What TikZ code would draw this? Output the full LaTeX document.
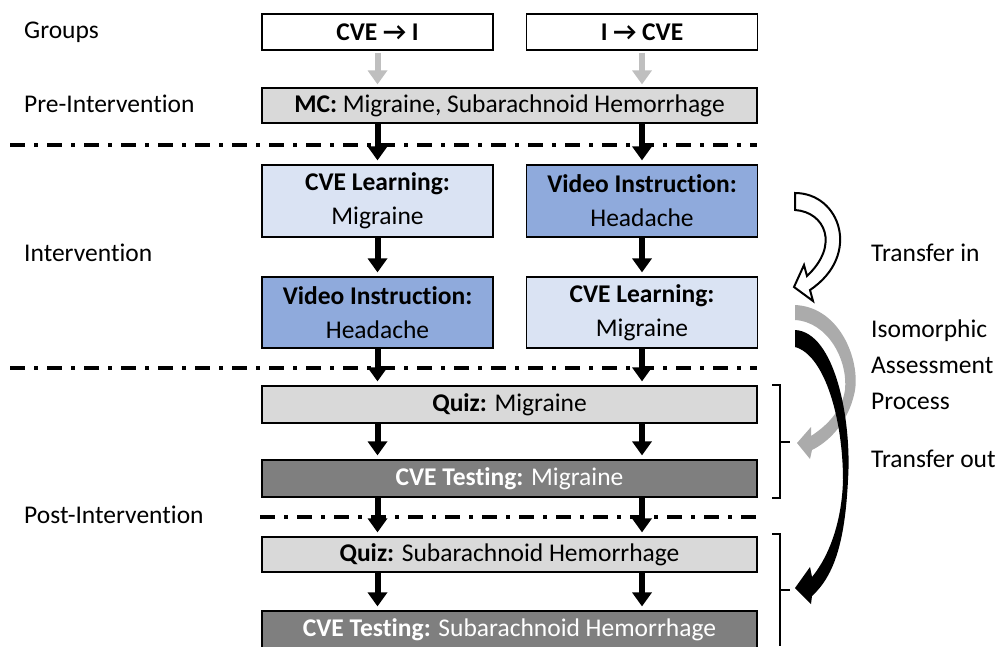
\documentclass[tikz,border=0pt]{standalone}
\usepackage{fontspec}
\setmainfont{Carlito}[Ligatures={NoCommon}]
\usetikzlibrary{arrows.meta}
\definecolor{lgray}{HTML}{D9D9D9}
\definecolor{dgray}{HTML}{7F7F7F}
\definecolor{lblue}{HTML}{DAE3F3}
\definecolor{dblue}{HTML}{8FAADC}
\definecolor{agray}{HTML}{BFBFBF}
\definecolor{cgray}{HTML}{ABABAB}
\begin{document}
\begin{tikzpicture}[x=1pt,y=-1pt,
  every node/.style={font=\fontsize{25.5}{34}\selectfont, inner sep=0pt},
  box/.style={draw=black, line width=1.2pt, align=center},
  narrowbox/.style={box, minimum width=231pt},
  widebox/.style={box, minimum width=495pt},
  lab/.style={anchor=west, text height=18pt, text depth=4pt},
  bigarr/.style={line width=6pt, -{Triangle[width=19pt,length=14pt]}, black, shorten >=4pt},
  grayarr/.style={line width=6pt, -{Triangle[width=19pt,length=14pt]}, agray, shorten >=3pt, shorten <=2pt},
  dashdot/.style={line width=3.5pt, dash pattern=on 15pt off 9pt on 4pt off 9pt},
  brk/.style={line width=2.5pt, line join=miter}
]
\useasboundingbox (0,0) rectangle (1002,646);

% left labels
\node[lab] (tgroups) at (24,31) {Groups};
\node[lab] (tpre) at (24,105) {Pre-Intervention};
\node[lab] (tint) at (24,254) {Intervention};
\node[lab] (tpost) at (24,516) {Post-Intervention};

% right labels
\node[lab] (ttin) at (871,254) {Transfer in};
\node[lab] (tiso) at (871,330) {Isomorphic};
\node[lab] (tass) at (871,366) {Assessment};
\node[lab] (tpro) at (871,402) {Process};
\node[lab] (ttout) at (871,460) {Transfer out};

% dash-dot separators
\draw[dashdot] (10,145) -- (757,145);
\draw[dashdot] (10,368) -- (757,368);
\draw[dashdot] (260,517) -- (757,517);

% boxes
\node[narrowbox, fill=white, minimum height=36pt] (g1) at (377.5,32) {\textbf{CVE → I}};
\node[narrowbox, fill=white, minimum height=36pt] (g2) at (642,32) {\textbf{I → CVE}};
\node[widebox, fill=lgray, minimum height=35pt] (mc) at (509.5,105.5) {\textbf{MC:} Migraine, Subarachnoid Hemorrhage};
\node[narrowbox, fill=lblue, minimum height=72pt] (l1) at (377.5,201) {\textbf{CVE Learning:}\\Migraine};
\node[narrowbox, fill=dblue, minimum height=72pt] (r1) at (642,201) {\textbf{Video Instruction:}\\Headache};
\node[narrowbox, fill=dblue, minimum height=71pt] (l2) at (377.5,312.5) {\textbf{Video Instruction:}\\Headache};
\node[narrowbox, fill=lblue, minimum height=71pt] (r2) at (642,312.5) {\textbf{CVE Learning:}\\Migraine};
\node[widebox, fill=lgray, minimum height=37pt] (q1) at (509.5,404.5) {\textbf{Quiz:} Migraine};
\node[widebox, fill=dgray, text=white, minimum height=37pt] (t1) at (509.5,478.5) {\textbf{CVE Testing:} Migraine};
\node[widebox, fill=lgray, minimum height=35pt] (q2) at (509.5,554.5) {\textbf{Quiz:} Subarachnoid Hemorrhage};
\node[widebox, fill=dgray, text=white, minimum height=38pt] (t2) at (509.5,630) {\textbf{CVE Testing:} Subarachnoid Hemorrhage};

% gray arrows
\draw[grayarr] (g1.south) -- (g1.south |- mc.north);
\draw[grayarr] (g2.south) -- (g2.south |- mc.north);

% black arrows
\draw[bigarr] (l1.north |- mc.south) -- (l1.north);
\draw[bigarr] (r1.north |- mc.south) -- (r1.north);
\draw[bigarr] (l1.south) -- (l2.north);
\draw[bigarr] (r1.south) -- (r2.north);
\draw[bigarr] (l2.south) -- (l2.south |- q1.north);
\draw[bigarr] (r2.south) -- (r2.south |- q1.north);
\draw[bigarr] (l1.south |- q1.south) -- (l1.south |- t1.north);
\draw[bigarr] (r1.south |- q1.south) -- (r1.south |- t1.north);
\draw[bigarr] (l1.south |- t1.south) -- (l1.south |- q2.north);
\draw[bigarr] (r1.south |- t1.south) -- (r1.south |- q2.north);
\draw[bigarr] (l1.south |- q2.south) -- (l1.south |- t2.north);
\draw[bigarr] (r1.south |- q2.south) -- (r1.south |- t2.north);

% brackets
\draw[brk] (772,385) -- (780,385) -- (780,498) -- (772,498);
\draw[brk] (780,442) -- (790,442);
\draw[brk] (772,534) -- (780,534) -- (780,646);
\draw[brk] (780,590) -- (790,590);

% hollow curved arrow (transfer in)
\draw[line width=2pt, fill=white, line join=miter]
  (795,193) .. controls (840,193) and (862,255) .. (810,290)
  -- (813,301) -- (794,287) -- (804,265) -- (807,276)
  .. controls (840,245) and (825,212) .. (795,210) -- cycle;

% gray curved arrow
\fill[cgray]
  (795,305) .. controls (842,307) and (862,365) .. (854,395)
  .. controls (848,420) and (832,440) .. (812,450)
  -- (810,459) -- (797,443) -- (811,427) -- (811,436)
  .. controls (828,425) and (842,410) .. (845,390)
  .. controls (848,360) and (828,322) .. (795,320) -- cycle;

% black curved arrow
\fill[black]
  (795,330) .. controls (835,332) and (852,420) .. (848,480)
  .. controls (845,540) and (835,575) .. (812,596)
  -- (811,604) -- (795,588) -- (810,567) -- (812,577)
  .. controls (830,555) and (842,520) .. (843,480)
  .. controls (843,420) and (825,355) .. (795,347) -- cycle;
\end{tikzpicture}
\end{document}
